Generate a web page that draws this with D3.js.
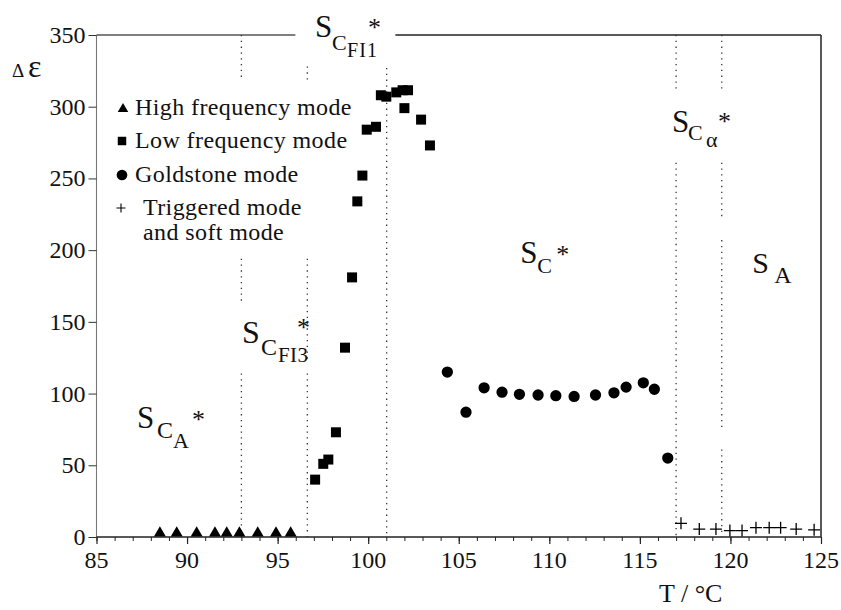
<!DOCTYPE html>
<html>
<head>
<meta charset="utf-8">
<script src="https://cdn.jsdelivr.net/npm/d3@7/dist/d3.min.js"></script>
</head>
<body style="margin:0">
<svg id="t" width="841" height="610"></svg>
<script>
// ---------- data ----------
const xTicks = [85, 90, 95, 100, 105, 110, 115, 120, 125];
const yTicks = [0, 50, 100, 150, 200, 250, 300, 350];

const hfT = [88.5, 89.43, 90.53, 91.54, 92.19, 92.89, 93.9, 94.91, 95.72];
const hfV = [2, 2, 2, 2, 2, 2, 2, 2, 2];

const lfT = [97.07, 97.52, 97.8, 98.22, 98.72, 99.11, 99.4, 99.68, 99.92, 100.43, 100.7, 101.0, 101.55, 101.9, 102.2, 102.0, 102.92, 103.41];
const lfV = [40, 51, 54, 73, 132, 181, 234, 252, 284, 286, 308, 307, 310, 311.5, 311.5, 299, 291, 273];

const gsT = [104.37, 105.4, 106.4, 107.39, 108.35, 109.38, 110.36, 111.37, 112.55, 113.57, 114.24, 115.19, 115.8, 116.54];
const gsV = [115, 87, 104, 101, 99.5, 99, 98.5, 98, 99, 100.5, 104.5, 107.5, 103, 55];

const trT = [117.27, 118.28, 119.2, 119.97, 120.64, 121.41, 122.14, 122.77, 123.63, 124.62];
const trV = [9.5, 5.5, 5.5, 4.5, 4.5, 6.5, 6.5, 6.5, 5.5, 5];

// phase boundaries (°C) and the visible dotted stretches (in Δε units)
const boundT = [93.0, 96.64, 101.02, 117.0, 119.52];
const boundSeg = [
  [[350, 318], [194, 162], [114, 0]],
  [[328, 318], [194, 122], [114, 0]],
  [[327, 0]],
  [[350, 310], [261, 0]],
  [[350, 310], [261, 221], [207, 75], [61, 0]]
];

const legendItems = ["High frequency mode", "Low frequency mode", "Goldstone mode", "Triggered mode", "and soft mode"];

const FONT = '"Liberation Serif"';

// ---------- scales ----------
const svg = d3.select("#t");
const x = d3.scaleLinear().domain([85, 125]).range([96.5, 821]);
const y = d3.scaleLinear().domain([0, 350]).range([537, 35]);

function txt(sel, size) {
  return sel.append("text").style("font-family", FONT).style("font-size", size + "px").style("fill", "#111");
}

// ---------- frame ----------
const frame = svg.append("g").attr("stroke", "#222").attr("fill", "none");
frame.append("line").attr("x1", x(85)).attr("x2", x(95.98)).attr("y1", y(350)).attr("y2", y(350)).attr("stroke", "#555").attr("stroke-width", 1.3);
frame.append("line").attr("x1", x(101.5)).attr("x2", x(125)).attr("y1", y(350)).attr("y2", y(350)).attr("stroke-width", 1.3);
frame.append("line").attr("x1", x(125)).attr("x2", x(125)).attr("y1", y(350)).attr("y2", y(0)).attr("stroke-width", 1.5);
frame.append("line").attr("x1", x(85)).attr("x2", x(85)).attr("y1", y(350)).attr("y2", y(0)).attr("stroke", "#777").attr("stroke-width", 1.1);
frame.append("line").attr("x1", x(85)).attr("x2", x(125)).attr("y1", y(0)).attr("y2", y(0)).attr("stroke-width", 1.3);

// ---------- phase boundaries ----------
const bg = svg.append("g").attr("stroke", "#333").attr("stroke-width", 1.3).attr("stroke-dasharray", "1.3,4.5");
boundT.forEach((t, i) => {
  boundSeg[i].forEach(s => {
    bg.append("line").attr("x1", x(t)).attr("x2", x(t)).attr("y1", y(s[0])).attr("y2", y(s[1]));
  });
});

// ---------- axes (ticks via d3 axis, labels drawn as own texts) ----------
const minor = d3.range(85, 126, 1);
const xMinor = svg.append("g").attr("transform", `translate(0,${y(0)})`)
  .call(d3.axisBottom(x).tickValues(minor).tickSize(4).tickFormat(""));
xMinor.select(".domain").remove();
xMinor.selectAll("text").remove();
xMinor.selectAll("line").attr("stroke", "#222");

const xAxis = svg.append("g").attr("transform", `translate(0,${y(0)})`)
  .call(d3.axisBottom(x).tickValues(xTicks).tickSize(7).tickFormat(""));
xAxis.select(".domain").remove();
xAxis.selectAll("text").remove();
xAxis.selectAll("line").attr("stroke", "#222").attr("stroke-width", 1.2);

const yAxis = svg.append("g").attr("transform", `translate(${x(85)},0)`)
  .call(d3.axisLeft(y).tickValues(yTicks).tickSize(8).tickFormat(""));
yAxis.select(".domain").remove();
yAxis.selectAll("text").remove();
yAxis.selectAll("line").attr("stroke", "#333");

const xl = svg.append("g");
xTicks.forEach(t => {
  txt(xl, 24).attr("x", x(t)).attr("y", y(0) + 31).attr("text-anchor", "middle").text(t);
});
const yl = svg.append("g");
yTicks.forEach(v => {
  txt(yl, 24).attr("x", x(85) - 11).attr("y", y(v) + 8).attr("text-anchor", "end").text(v);
});

// axis titles
txt(svg, 19).attr("x", 12).attr("y", 77).text("Δ");
txt(svg, 32).attr("x", 28).attr("y", 77).text("ε");
txt(svg, 26).attr("x", 659).attr("y", 602).text("T / °C");

// ---------- data marks ----------
const marks = svg.append("g").attr("fill", "#000");
const tri = d3.symbol().type(d3.symbolTriangle).size(62);
const sq = d3.symbol().type(d3.symbolSquare).size(100);
const circ = d3.symbol().type(d3.symbolCircle).size(100);

marks.selectAll(".hf").data(hfT).join("path").attr("class", "hf")
  .attr("d", tri).attr("transform", (d, i) => `translate(${x(d)},${y(hfV[i]) - 1})`);
marks.selectAll(".lf").data(lfT).join("path").attr("class", "lf")
  .attr("d", sq).attr("transform", (d, i) => `translate(${x(d)},${y(lfV[i])})`);
marks.selectAll(".gs").data(gsT).join("path").attr("class", "gs")
  .attr("d", circ).attr("transform", (d, i) => `translate(${x(d)},${y(gsV[i])})`);
const plus = "M-6,0H6M0,-6V6";
marks.selectAll(".tr").data(trT).join("path").attr("class", "tr")
  .attr("d", plus).attr("stroke", "#000").attr("stroke-width", 1.3).attr("fill", "none")
  .attr("transform", (d, i) => `translate(${x(d)},${y(trV[i])})`);

// ---------- legend ----------
const lg = svg.append("g");
const rowBase = [115, 148, 182, 215, 240];
const symX = 123;
lg.append("path").attr("d", d3.symbol().type(d3.symbolTriangle).size(48)).attr("transform", `translate(${symX},${rowBase[0] - 6})`);
lg.append("path").attr("d", d3.symbol().type(d3.symbolSquare).size(72)).attr("transform", `translate(${symX - 1},${rowBase[1] - 7})`);
lg.append("path").attr("d", d3.symbol().type(d3.symbolCircle).size(90)).attr("transform", `translate(${symX - 1},${rowBase[2] - 7})`);
lg.append("path").attr("d", "M-4.5,0H4.5M0,-4.5V4.5").attr("stroke", "#000").attr("stroke-width", 1.1).attr("transform", `translate(${symX - 2},${rowBase[3] - 7})`);
legendItems.forEach((t, i) => {
  txt(lg, 24).attr("x", i < 3 ? 135 : 143).attr("y", rowBase[i]).style("letter-spacing", "0.4px").text(t);
});

// ---------- phase labels ----------
function phaseLabel(t, v, parts) {
  const g = svg.append("g").attr("transform", `translate(${x(t)},${y(v)})`);
  parts.forEach(p => {
    txt(g, p[3]).attr("x", p[1]).attr("y", p[2]).style("letter-spacing", (p[4] || 0) + "px").text(p[0]);
  });
}
// S_CFI1*
phaseLabel(97.07, 348.7, [["S", 0, 0, 31], ["C", 17, 13, 22], ["FI1", 32, 20, 20, 1], ["*", 53, -1, 26]]);
// S_CFI3*
phaseLabel(93.03, 135.3, [["S", 0, 0, 32], ["C", 19, 12, 24], ["FI3", 36, 19, 21, 0.5], ["*", 55, -7, 26]]);
// S_CA*
phaseLabel(87.24, 76, [["S", 0, 0, 31], ["C", 20, 10, 24], ["A", 36, 20, 22], ["*", 55, 0, 26]]);
// S_C*
phaseLabel(108.39, 191, [["S", 0, 0, 31], ["C", 17, 10, 22], ["*", 36, 0, 26]]);
// S_Cα*
phaseLabel(116.78, 282.4, [["S", 0, 0, 31], ["C", 16, 8, 22], ["α", 34, 15, 22], ["*", 46, -2, 26]]);
// S_A
phaseLabel(121.2, 184, [["S", 0, 0, 30], ["A", 22, 10, 24]]);
</script>
</body>
</html>
